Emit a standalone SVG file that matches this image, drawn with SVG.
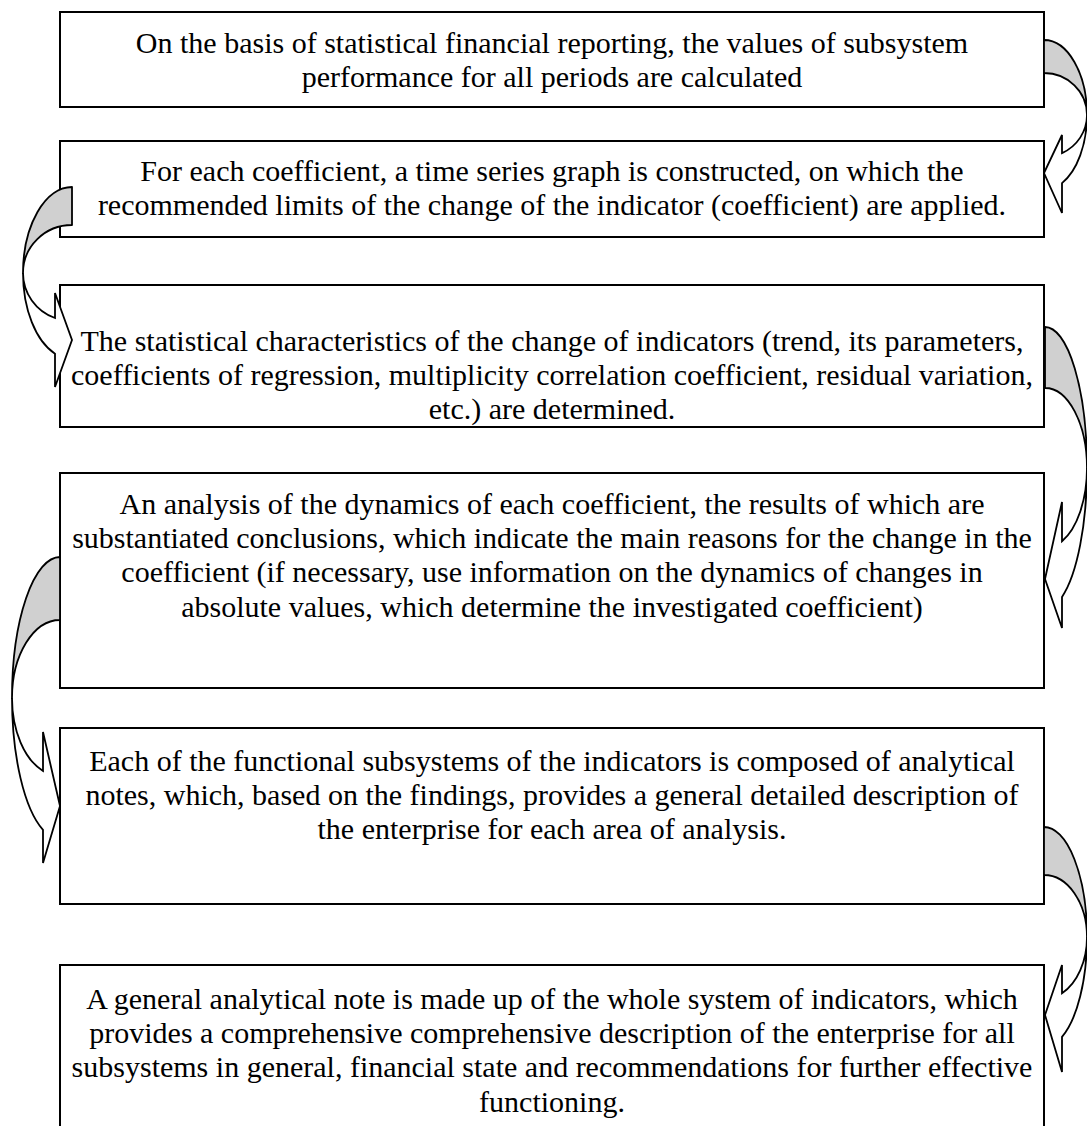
<svg xmlns="http://www.w3.org/2000/svg" width="1087" height="1126" viewBox="0 0 1087 1126">
<style>
.box{fill:#fff;stroke:#000;stroke-width:2}
.t{font-family:"Liberation Serif","Times New Roman",serif;font-size:30px;fill:#000;text-anchor:middle}
.back{fill:#d0d0d0;stroke:#000;stroke-width:1.8;stroke-linejoin:round}
.front{fill:#fff;stroke:#000;stroke-width:1.8;stroke-linejoin:miter}
</style>
<rect width="1087" height="1126" fill="#fff"/>
<g id="box1">
<rect class="box" x="60" y="12" width="984" height="95"/>
<text class="t" x="552" y="53">On the basis of statistical financial reporting, the values of subsystem</text>
<text class="t" x="552" y="87">performance for all periods are calculated</text>
</g>
<g id="box2">
<rect class="box" x="60" y="141" width="984" height="96"/>
<text class="t" x="552" y="181">For each coefficient, a time series graph is constructed, on which the</text>
<text class="t" x="552" y="215">recommended limits of the change of the indicator (coefficient) are applied.</text>
</g>
<g id="box3">
<rect class="box" x="60" y="285" width="984" height="142"/>
<text class="t" x="552" y="351">The statistical characteristics of the change of indicators (trend, its parameters,</text>
<text class="t" x="552" y="385">coefficients of regression, multiplicity correlation coefficient, residual variation,</text>
<text class="t" x="552" y="419">etc.) are determined.</text>
</g>
<g id="box4">
<rect class="box" x="60" y="473" width="984" height="215"/>
<text class="t" x="552" y="514">An analysis of the dynamics of each coefficient, the results of which are</text>
<text class="t" x="552" y="548">substantiated conclusions, which indicate the main reasons for the change in the</text>
<text class="t" x="552" y="582">coefficient (if necessary, use information on the dynamics of changes in</text>
<text class="t" x="552" y="617">absolute values, which determine the investigated coefficient)</text>
</g>
<g id="box5">
<rect class="box" x="60" y="728" width="984" height="176"/>
<text class="t" x="552" y="771">Each of the functional subsystems of the indicators is composed of analytical</text>
<text class="t" x="552" y="805">notes, which, based on the findings, provides a general detailed description of</text>
<text class="t" x="552" y="839">the enterprise for each area of analysis.</text>
</g>
<g id="box6">
<rect class="box" x="60" y="965" width="984" height="180"/>
<text class="t" x="552" y="1009">A general analytical note is made up of the whole system of indicators, which</text>
<text class="t" x="552" y="1043">provides a comprehensive comprehensive description of the enterprise for all</text>
<text class="t" x="552" y="1077">subsystems in general, financial state and recommendations for further effective</text>
<text class="t" x="552" y="1112">functioning.</text>
</g>
<g id="connectors">
<g id="arrow1">
<path class="back" d="M1044,40 A43,75 0 0 1 1087,115 A43,42 0 0 0 1044,73 Z"/>
<path class="front" d="M1087,115 A43,75 0 0 1 1062,183.1 L1062,213 L1044,173 L1062,135 L1062,153.1 A43,42 0 0 0 1087,115 Z"/>
</g>
<g id="arrow2">
<path class="back" d="M72,187 A49,86 0 0 0 23,273 A49,48 0 0 1 72,225 Z"/>
<path class="front" d="M23,273 A49,86 0 0 0 55,353.7 L55,387 L72,340 L55,293 L55,318 A49,48 0 0 1 23,273 Z"/>
</g>
<g id="arrow3">
<path class="back" d="M1045,327 A42,141 0 0 1 1087,468 A42,80 0 0 0 1045,388 Z"/>
<path class="front" d="M1087,468 A42,141 0 0 1 1062,596.9 L1062,628 L1045,579 L1062,502 L1062,541.2 A42,80 0 0 0 1087,468 Z"/>
</g>
<g id="arrow4">
<path class="back" d="M60,557 A48,141 0 0 0 12,698 A48,78 0 0 1 60,620 Z"/>
<path class="front" d="M12,698 A48,141 0 0 0 43,829.8 L43,863 L60,806 L43,732 L43,770.9 A48,78 0 0 1 12,698 Z"/>
</g>
<g id="arrow5">
<path class="back" d="M1044,827 A43,110 0 0 1 1087,937 A43,62 0 0 0 1044,875 Z"/>
<path class="front" d="M1087,937 A43,110 0 0 1 1062,1036.9 L1062,1072 L1045,1015 L1062,965 L1062,993.3 A43,62 0 0 0 1087,937 Z"/>
</g>
</g>
</svg>
